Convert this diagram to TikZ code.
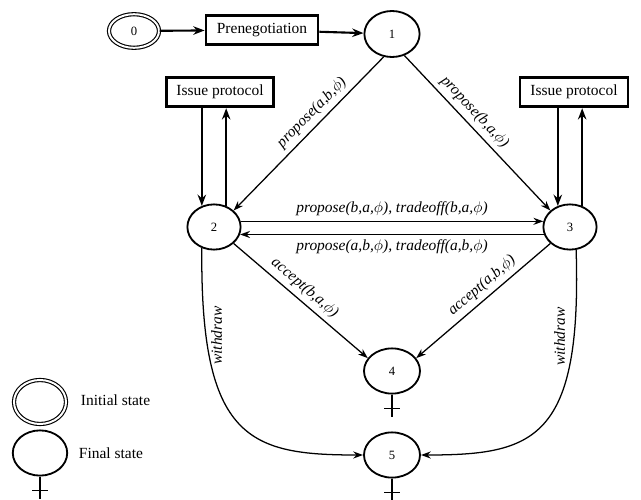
\documentclass[tikz,border=0pt]{standalone}
\usepackage{fontspec}
\setmainfont{Liberation Serif}
\usetikzlibrary{shapes.geometric,arrows.meta}
\tikzset{
	state/.style={ellipse,draw,line width=1.3pt,inner sep=0pt,minimum width=1.33cm,minimum height=1.13cm,font=\fontsize{9}{10}\selectfont},
	initstate/.style={state,double,double distance=1.4pt,line width=0.8pt},
	protbox/.style={rectangle,draw,line width=2pt,minimum height=0.74cm,font=\fontsize{11}{13}\selectfont},
	trans/.style={-{Stealth[length=7pt,width=5pt]},line width=0.9pt},
	heavy/.style={-{Stealth[length=8pt,width=6pt]},line width=1.5pt},
	lbl/.style={font=\fontsize{11}{13}\selectfont\itshape,sloped},
	wlbl/.style={font=\fontsize{11}{13}\selectfont\itshape,rotate=90},
	cross/.style={line width=1.3pt}
}
\begin{document}
\begin{tikzpicture}[x=0.025cm,y=-0.025cm]
	\useasboundingbox (0,0) rectangle (641,500);
	\node[initstate,minimum width=1.25cm,minimum height=0.84cm] (n0) at (134,31) {0};
	\node[protbox,minimum width=2.8cm] (pre) at (262,30) {Prenegotiation};
	\node[state,minimum width=1.38cm,minimum height=1.15cm] (n1) at (392,34) {1};
	\node[protbox,minimum width=2.67cm] (ipl) at (220,92) {Issue protocol};
	\node[protbox,minimum width=2.7cm] (ipr) at (574,92) {Issue protocol};
	\node[state] (n2) at (214,227) {2};
	\node[state] (n3) at (570,227) {3};
	\node[state,minimum width=1.4cm] (n4) at (392,371) {4};
	\node[state,minimum width=1.4cm] (n5) at (392,455) {5};
	\node[initstate,minimum width=1.3cm,minimum height=1.1cm] (init) at (40,402) {};
	\node[state,minimum width=1.36cm] (fin) at (40,453) {};
	\node[anchor=west,font=\fontsize{11}{13}\selectfont] (initlbl) at (76,400) {Initial state};
	\node[anchor=west,font=\fontsize{11}{13}\selectfont] (finlbl) at (74,453) {Final state};
	\draw[heavy] (n0) -- (pre);
	\draw[heavy] (pre) -- (n1);
	\draw[heavy] (n2.120 |- ipl.south) -- (n2.120);
	\draw[heavy] (n2.60) -- (n2.60 |- ipl.south);
	\draw[heavy] (n3.120 |- ipr.south) -- (n3.120);
	\draw[heavy] (n3.60) -- (n3.60 |- ipr.south);
	\draw[trans] (n1.250) -- node[lbl,above,pos=0.42] {propose(a,b,$\phi$)} (n2.40);
	\draw[trans] (n1.300) -- node[lbl,above,pos=0.42] {propose(b,a,$\phi$)} (n3.140);
	\draw[trans,line width=1.1pt] (n2.12) -- node[lbl,above] {propose(b,a,$\phi$), tradeoff(b,a,$\phi$)} (n3.168);
	\draw[trans,line width=1.1pt] (n3.196) -- node[lbl,below] {propose(a,b,$\phi$), tradeoff(a,b,$\phi$)} (n2.344);
	\draw[trans] (n2.320) -- node[lbl,above,pos=0.47] {accept(b,a,$\phi$)} (n4.152);
	\draw[trans] (n3.220) -- node[lbl,above,pos=0.45] {accept(a,b,$\phi$)} (n4.28);
	\draw[trans] (n2.240) .. controls (200,440) and (250,455) .. node[wlbl,anchor=north,pos=0.18] {withdraw} (n5.west);
	\draw[trans] (n3.285) .. controls (582,440) and (534,455) .. node[wlbl,anchor=south,inner sep=6pt,pos=0.18] {withdraw} (n5.east);
	\foreach \s in {n4,n5,fin}
	\draw[cross] (\s.south) -- ++(0,22) ++(-8,-8) -- ++(16,0);
\end{tikzpicture}
\end{document}
